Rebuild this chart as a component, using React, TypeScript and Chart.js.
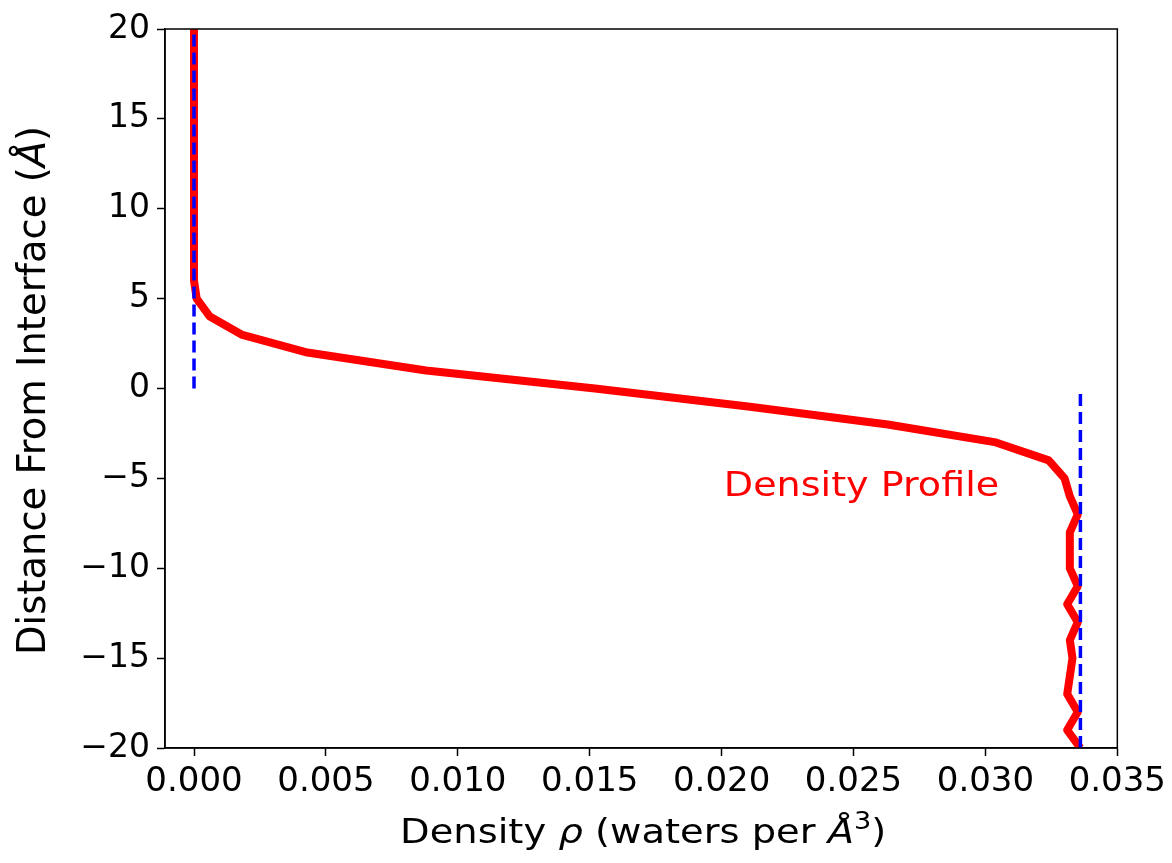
import React, { useEffect, useRef } from "react";
import { Chart, registerables } from "chart.js";

Chart.register(...registerables);

// Distance from the interface (Å), one sample per ångström
const DISTANCE = [
  20, 19, 18, 17, 16, 15, 14, 13, 12, 11, 10, 9, 8, 7, 6, 5, 4, 3, 2, 1, 0,
  -1, -2, -3, -4, -5, -6, -7, -8, -9, -10, -11, -12, -13, -14, -15, -16, -17,
  -18, -19, -20,
];

// Water density ρ (waters per Å³) at each distance
const DENSITY = [
  0, 0, 0, 0, 0, 0, 0, 0, 0, 0, 0, 0, 0, 0, 0, 0.0001, 0.0006, 0.0018, 0.0043,
  0.0088, 0.0152, 0.021, 0.0263, 0.0304, 0.0324, 0.033, 0.0332, 0.0335, 0.0332,
  0.0332, 0.0332, 0.0335, 0.0331, 0.0335, 0.0332, 0.0333, 0.0332, 0.0331,
  0.0335, 0.0331, 0.0336,
];

// Reference densities: vapour (above interface) and bulk liquid (below)
const VAPOR_DENSITY = 0;
const VAPOR_RANGE = [0, 20];
const BULK_DENSITY = 0.0336;
const BULK_RANGE = [-20, 0];

const X_TICKS = [0, 0.005, 0.01, 0.015, 0.02, 0.025, 0.03, 0.035];
const Y_TICKS = [-20, -15, -10, -5, 0, 5, 10, 15, 20];
const X_MIN = -0.0011;
const X_MAX = 0.035;

const LABEL_TEXT = "Density Profile";
const LABEL_X = 0.02;
const LABEL_Y = -6;

const FONT = "'DejaVu Sans', sans-serif";

type Run = { text: string; font: string; dy?: number };

function drawRuns(ctx: CanvasRenderingContext2D, runs: Run[], color: string) {
  let total = 0;
  for (const r of runs) {
    ctx.font = r.font;
    total += ctx.measureText(r.text).width;
  }
  let x = -total / 2;
  ctx.fillStyle = color;
  ctx.textAlign = "left";
  ctx.textBaseline = "alphabetic";
  for (const r of runs) {
    ctx.font = r.font;
    ctx.fillText(r.text, x, r.dy || 0);
    x += ctx.measureText(r.text).width;
  }
}

const decorations = {
  id: "decorations",
  afterDraw(chart: any) {
    const { ctx, chartArea } = chart;
    const xs = chart.scales.x;
    const ys = chart.scales.y;

    // full frame around the plot
    ctx.save();
    ctx.strokeStyle = "#000";
    ctx.lineWidth = 1.5;
    ctx.strokeRect(
      chartArea.left,
      chartArea.top,
      chartArea.right - chartArea.left,
      chartArea.bottom - chartArea.top
    );
    ctx.restore();

    // in-plot annotation
    ctx.save();
    ctx.translate(xs.getPixelForValue(LABEL_X), ys.getPixelForValue(LABEL_Y));
    ctx.scale(1.12, 1);
    ctx.font = `34px ${FONT}`;
    ctx.fillStyle = "#ff0000";
    ctx.textAlign = "left";
    ctx.textBaseline = "alphabetic";
    ctx.fillText(LABEL_TEXT, 2, 0);
    ctx.restore();

    // x axis title
    ctx.save();
    ctx.translate((chartArea.left + chartArea.right) / 2 + 2, 843);
    ctx.scale(1.13, 1);
    drawRuns(
      ctx,
      [
        { text: "Density ", font: `34px ${FONT}` },
        { text: "ρ", font: `italic 34px ${FONT}` },
        { text: " (waters per ", font: `34px ${FONT}` },
        { text: "Å", font: `italic 34px ${FONT}` },
        { text: "3", font: `24px ${FONT}`, dy: -14 },
        { text: ")", font: `34px ${FONT}` },
      ],
      "#000"
    );
    ctx.restore();

    // y axis title
    ctx.save();
    ctx.translate(45, (chartArea.top + chartArea.bottom) / 2 + 2);
    ctx.rotate(-Math.PI / 2);
    drawRuns(
      ctx,
      [
        { text: "Distance From Interface (", font: `38.5px ${FONT}` },
        { text: "Å", font: `italic 38.5px ${FONT}` },
        { text: ")", font: `38.5px ${FONT}` },
      ],
      "#000"
    );
    ctx.restore();
  },
};

export default function App() {
  const ref = useRef<HTMLCanvasElement | null>(null);

  useEffect(() => {
    if (!ref.current) return;
    const profile = DISTANCE.map((d, i) => ({ x: DENSITY[i], y: d }));
    const vapor = VAPOR_RANGE.map((d) => ({ x: VAPOR_DENSITY, y: d }));
    const bulk = BULK_RANGE.map((d) => ({ x: BULK_DENSITY, y: d }));

    const chart = new Chart(ref.current, {
      type: "line",
      data: {
        datasets: [
          {
            label: "vapour",
            data: vapor,
            borderColor: "#0000ff",
            borderWidth: 3.5,
            borderDash: [12, 6],
            pointRadius: 0,
            order: 0,
          },
          {
            label: "bulk",
            data: bulk,
            borderColor: "#0000ff",
            borderWidth: 3.5,
            borderDash: [12, 6],
            pointRadius: 0,
            order: 0,
          },
          {
            label: "profile",
            data: profile,
            borderColor: "#ff0000",
            borderWidth: 8,
            borderJoinStyle: "round",
            pointRadius: 0,
            tension: 0,
            order: 1,
          },
        ],
      },
      options: {
        responsive: false,
        animation: false,
        devicePixelRatio: 1,
        layout: { padding: { left: 0, top: 29, right: 54, bottom: 0 } },
        plugins: {
          legend: { display: false },
          tooltip: { enabled: false },
        },
        scales: {
          x: {
            type: "linear",
            min: X_MIN,
            max: X_MAX,
            afterBuildTicks: (s: any) => {
              s.ticks = X_TICKS.map((v) => ({ value: v }));
            },
            afterFit: (s: any) => {
              s.height = 115;
            },
            grid: {
              drawOnChartArea: false,
              drawTicks: true,
              tickLength: 8,
              tickWidth: 1.5,
              tickColor: "#000",
            },
            border: { display: true, color: "#000", width: 1.5 },
            ticks: {
              color: "#000",
              font: { family: FONT, size: 34 },
              padding: 6,
              maxRotation: 0,
              autoSkip: false,
              callback: (v: any) => Number(v).toFixed(3),
            },
          },
          y: {
            type: "linear",
            min: -20,
            max: 20,
            afterBuildTicks: (s: any) => {
              s.ticks = Y_TICKS.map((v) => ({ value: v }));
            },
            afterFit: (s: any) => {
              s.width = 165;
            },
            grid: {
              drawOnChartArea: false,
              drawTicks: true,
              tickLength: 8,
              tickWidth: 1.5,
              tickColor: "#000",
            },
            border: { display: true, color: "#000", width: 1.5 },
            ticks: {
              color: "#000",
              font: { family: FONT, size: 33 },
              padding: 7,
              autoSkip: false,
              callback: (v: any) =>
                Number(v) < 0 ? "\u2212" + Math.abs(Number(v)) : String(v),
            },
          },
        },
      },
      plugins: [decorations],
    });
    return () => chart.destroy();
  }, []);

  return (
    <div style={{ position: "fixed", left: 0, top: 0, width: 1172, height: 863, background: "#fff" }}>
      <canvas ref={ref} width={1172} height={863} />
    </div>
  );
}
